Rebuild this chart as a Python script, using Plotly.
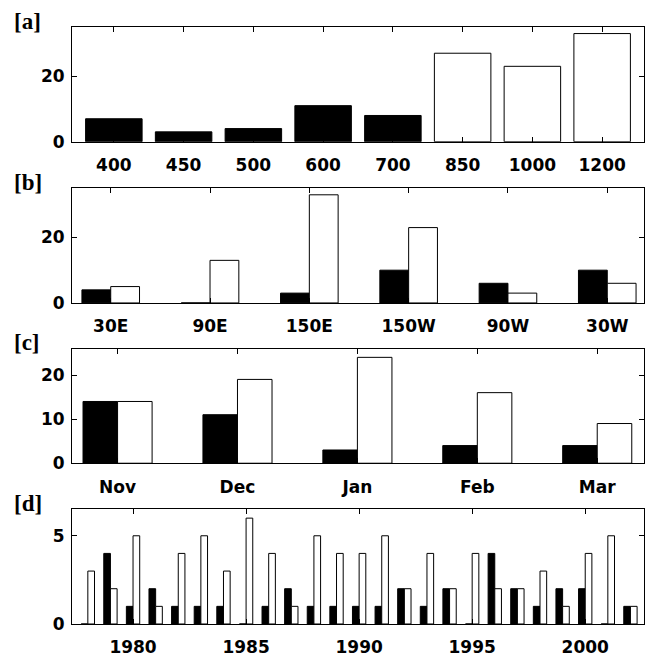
import plotly.graph_objects as go

# ---- data ----
levels = ['400', '450', '500', '600', '700', '850', '1000', '1200']
level_counts = [7, 3, 4, 11, 8, 27, 23, 33]

longitudes = ['30E', '90E', '150E', '150W', '90W', '30W']
lon_black = [4, 0, 3, 10, 6, 10]
lon_white = [5, 13, 33, 23, 3, 6]

months = ['Nov', 'Dec', 'Jan', 'Feb', 'Mar']
month_black = [14, 11, 3, 4, 4]
month_white = [14, 19, 24, 16, 9]

years = list(range(1978, 2003))
year_black = [0, 4, 1, 2, 1, 1, 1, 0, 1, 2, 1, 1, 1, 1, 2, 1, 2, 0, 4, 2, 1, 2, 2, 0, 1]
year_white = [3, 2, 5, 1, 4, 5, 3, 6, 4, 1, 5, 4, 4, 5, 2, 4, 2, 4, 2, 2, 3, 1, 4, 5, 1]

panel_labels = ['[a]', '[b]', '[c]', '[d]']

# ---- layout geometry (pixels) ----
W, H = 650, 662
ml, mr, mt, mb = 72, 5, 27, 26
ph = H - mt - mb
tops = [27, 191.5, 355, 519]
panel_h = 117


def py(y):
    return min(1.0, max(0.0, (H - mb - y) / ph))


def py_free(y):
    return (H - mb - y) / ph


fig = go.Figure()

tick_font = dict(family='DejaVu Sans', size=17, color='black', weight='bold')
line_style = dict(color='black', width=1)

# panel a: single bars, first five black
colors_a = ['black'] * 5 + ['white'] * 3
fig.add_trace(go.Bar(x=levels, y=level_counts, width=0.81,
                     marker=dict(color=colors_a, line=line_style),
                     xaxis='x', yaxis='y', showlegend=False))

w_b = 0.29
fig.add_trace(go.Bar(x=longitudes, y=lon_black, width=w_b, offset=-w_b,
                     marker=dict(color='black', line=line_style),
                     xaxis='x2', yaxis='y2', showlegend=False))
fig.add_trace(go.Bar(x=longitudes, y=lon_white, width=w_b, offset=0,
                     marker=dict(color='white', line=line_style),
                     xaxis='x2', yaxis='y2', showlegend=False))

w_c = 0.288
fig.add_trace(go.Bar(x=months, y=month_black, width=w_c, offset=-w_c,
                     marker=dict(color='black', line=line_style),
                     xaxis='x3', yaxis='y3', showlegend=False))
fig.add_trace(go.Bar(x=months, y=month_white, width=w_c, offset=0,
                     marker=dict(color='white', line=line_style),
                     xaxis='x3', yaxis='y3', showlegend=False))

w_d = 0.295
fig.add_trace(go.Bar(x=years, y=year_black, width=w_d, offset=-w_d,
                     marker=dict(color='black', line=line_style),
                     xaxis='x4', yaxis='y4', showlegend=False))
fig.add_trace(go.Bar(x=years, y=year_white, width=w_d, offset=0,
                     marker=dict(color='white', line=line_style),
                     xaxis='x4', yaxis='y4', showlegend=False))

common_ax = dict(showline=True, linecolor='black', linewidth=1, mirror='ticks',
                 ticks='inside', ticklen=5, tickcolor='black', tickwidth=1,
                 showgrid=False, zeroline=False, tickfont=tick_font,
                 fixedrange=True)

x_ranges = [[-0.6, 7.6], [-0.39, 5.37], [-0.38, 4.39], [1977.3, 2002.6]]
y_ranges = [[0, 35], [0, 35], [0, 26], [0, 6.5]]
y_ticks = [[0, 20], [0, 20], [0, 10, 20], [0, 5]]

layout = dict(width=W, height=H, margin=dict(l=ml, r=mr, t=mt, b=mb),
              plot_bgcolor='white', paper_bgcolor='white', barmode='overlay',
              font=dict(family='DejaVu Sans', color='black'))

for i in range(4):
    sfx = '' if i == 0 else str(i + 1)
    top = tops[i]
    dom = [py(top + panel_h), py(top)]
    xa = dict(common_ax, domain=[0, 1], anchor='y' + sfx, range=x_ranges[i],
              ticklabelstandoff=8)
    if i == 3:
        xa.update(tickmode='linear', tick0=1980, dtick=5)
    else:
        xa.update(type='category')
    ya = dict(common_ax, domain=dom, anchor='x' + sfx, range=y_ranges[i],
              tickmode='array', tickvals=y_ticks[i], ticklabelstandoff=3)
    layout['xaxis' + sfx] = xa
    layout['yaxis' + sfx] = ya

fig.update_layout(**layout)

for i, lab in enumerate(panel_labels):
    fig.add_annotation(text=lab, xref='paper', yref='paper',
                       x=(12.0 - ml) / (W - ml - mr), y=py_free(tops[i] - 5.7),
                       xanchor='left', yanchor='middle', showarrow=False,
                       font=dict(family='Liberation Serif', size=23,
                                 color='black', weight='bold'))

fig.write_html('out.html', config={'displayModeBar': False},
               post_script="document.body.style.margin='0';"
                           "document.body.style.padding='0';"
                           "document.body.style.overflow='hidden';")
